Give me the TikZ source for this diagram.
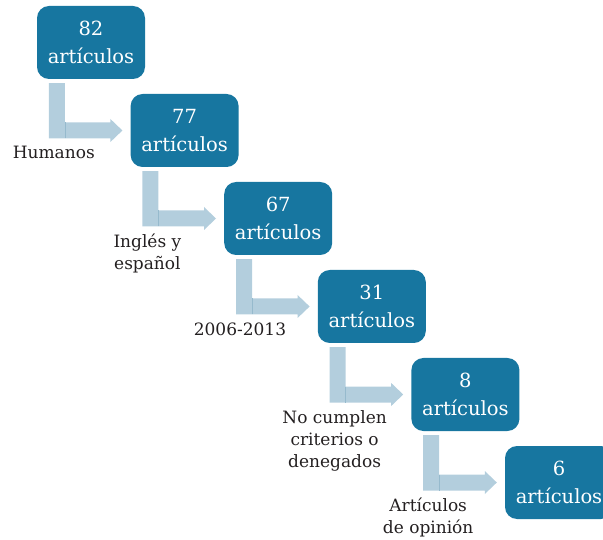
\documentclass[tikz,border=0pt]{standalone}
\usepackage{fontspec}
\setmainfont{DejaVu Serif}
\usetikzlibrary{calc}
\definecolor{boxblue}{RGB}{23,118,160}
\definecolor{arrowblue}{RGB}{179,206,221}
\definecolor{seamblue}{RGB}{150,186,205}
\definecolor{labeltext}{RGB}{35,31,32}
\tikzset{
  countbox/.style={rectangle, rounded corners=12pt, fill=boxblue, text=white,
    minimum width=108pt, minimum height=73pt, inner sep=0pt, align=center,
    font=\fontsize{19.5}{28}\selectfont},
  steplabel/.style={anchor=north, inner sep=0pt, align=center, text=labeltext,
    font=\fontsize{17}{22}\selectfont},
  arrowshape/.style={fill=arrowblue},
  seamline/.style={draw=seamblue, line width=0.6pt}
}
\begin{document}
\begin{tikzpicture}[x=1pt,y=-1pt]
\useasboundingbox (0,0) rectangle (603,540);
\node[countbox] (b1) at (91,42.5) {82\\artículos};
\node[countbox] (b2) at (184.6,130.5) {77\\artículos};
\node[countbox] (b3) at (278.2,218.5) {67\\artículos};
\node[countbox] (b4) at (371.8,306.5) {31\\artículos};
\node[countbox] (b5) at (465.4,394.5) {8\\artículos};
\node[countbox] (b6) at (559,482.5) {6\\artículos};
\foreach \i/\j in {1/2,2/3,3/4,4/5,5/6}{
  \coordinate (s\i) at ($(b\i.south west)+(12,4)$);
  \coordinate (t\i) at ($(b\j.west)+(-8,0)$);
  \coordinate (hb\i) at ($(t\i)+(-12,8)$);
  \coordinate (bb\i) at ($(t\i)+(0,8)$);
  \fill[arrowshape] (s\i) -- ++(16,0) |- ($(t\i)+(-12,-8)$) -- ++(0,-3.5) -- (t\i)
    -- ($(t\i)+(-12,11.5)$) -- (hb\i) -- (s\i |- bb\i) -- cycle;
  \coordinate (sm\i) at ($(s\i)+(16,0)$);
  \draw[seamline] (sm\i |- hb\i) -- ++(0,-16);
}
\node[steplabel] (l1) at ($(b1.south west)+(17,67)$) {Humanos};
\node[steplabel] (l2) at ($(b2.south west)+(17,67)$) {Inglés y\\español};
\node[steplabel] (l3) at ($(b3.south west)+(16,67)$) {2006-2013};
\node[steplabel] (l4) at ($(b4.south west)+(17,67)$) {No cumplen\\criterios o\\denegados};
\node[steplabel] (l5) at ($(b5.south west)+(17,67)$) {Artículos\\de opinión};
\end{tikzpicture}
\end{document}
